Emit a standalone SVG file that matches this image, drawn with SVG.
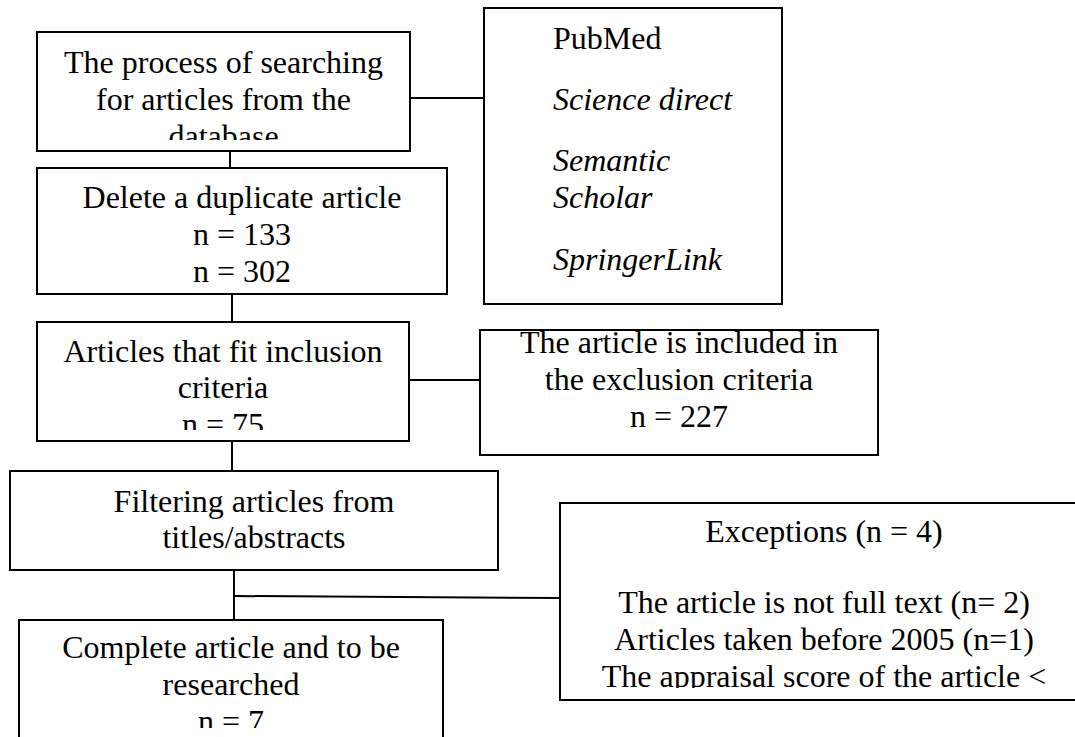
<svg xmlns="http://www.w3.org/2000/svg" width="1075" height="737" viewBox="0 0 1075 737">
<style>
.box{fill:#fff;stroke:#000;stroke-width:2}
.t{font-family:"Liberation Serif","Times New Roman",serif;font-size:32px;fill:#000}
.c{text-anchor:middle}
.i{font-style:italic}
.ln{stroke:#000;stroke-width:2;fill:none}
</style>
<defs>
<clipPath id="c1"><rect x="37" y="32" width="373" height="108"/></clipPath>
<clipPath id="c3"><rect x="37" y="322" width="372" height="108"/></clipPath>
<clipPath id="c5"><rect x="19" y="620" width="424" height="108"/></clipPath>
<clipPath id="c7"><rect x="560" y="503" width="515" height="185"/></clipPath>
</defs>
<rect width="1075" height="737" fill="#fff"/>
<g id="connectors">
<line class="ln" x1="410" y1="98" x2="484" y2="98"/>
<line class="ln" x1="230" y1="151" x2="230" y2="168"/>
<line class="ln" x1="232" y1="294" x2="232" y2="322"/>
<line class="ln" x1="409" y1="380" x2="480" y2="380"/>
<line class="ln" x1="232" y1="441" x2="232" y2="471"/>
<line class="ln" x1="234" y1="570" x2="234" y2="620"/>
<line class="ln" x1="234" y1="596" x2="560" y2="598"/>
</g>
<g id="search">
<rect class="box" x="37" y="32" width="373" height="119"/>
<g clip-path="url(#c1)">
<text class="t c" x="223.5" y="73">The process of searching</text>
<text class="t c" x="223.5" y="110">for articles from the</text>
<text class="t c" x="223.5" y="147">database</text>
</g>
</g>
<g id="databases">
<rect class="box" x="484" y="8" width="298" height="296"/>
<text class="t" x="553" y="49">PubMed</text>
<text class="t i" x="553" y="110">Science direct</text>
<text class="t i" x="553" y="171">Semantic</text>
<text class="t i" x="553" y="208">Scholar</text>
<text class="t i" x="553" y="270">SpringerLink</text>
</g>
<g id="duplicates">
<rect class="box" x="37" y="168" width="410" height="126"/>
<text class="t c" x="242" y="208">Delete a duplicate article</text>
<text class="t c" x="242" y="245">n = 133</text>
<text class="t c" x="242" y="282">n = 302</text>
</g>
<g id="inclusion">
<rect class="box" x="37" y="322" width="372" height="119"/>
<g clip-path="url(#c3)">
<text class="t c" x="223" y="362">Articles that fit inclusion</text>
<text class="t c" x="223" y="398">criteria</text>
<text class="t c" x="223" y="435">n = 75</text>
</g>
</g>
<g id="exclusion">
<rect class="box" x="480" y="330" width="398" height="125"/>
<text class="t c" x="679" y="353">The article is included in</text>
<text class="t c" x="679" y="390">the exclusion criteria</text>
<text class="t c" x="679" y="427">n = 227</text>
</g>
<g id="filtering">
<rect class="box" x="10" y="471" width="488" height="99"/>
<text class="t c" x="254" y="512">Filtering articles from</text>
<text class="t c" x="254" y="548">titles/abstracts</text>
</g>
<g id="exceptions">
<rect class="box" x="560" y="503" width="540" height="197"/>
<g clip-path="url(#c7)">
<text class="t c" x="824" y="542">Exceptions (n = 4)</text>
<text class="t c" x="824" y="613">The article is not full text (n= 2)</text>
<text class="t c" x="824" y="650">Articles taken before 2005 (n=1)</text>
<text class="t c" x="824" y="687">The appraisal score of the article &lt;</text>
</g>
</g>
<g id="complete">
<rect class="box" x="19" y="620" width="424" height="140"/>
<g clip-path="url(#c5)">
<text class="t c" x="231" y="658">Complete article and to be</text>
<text class="t c" x="231" y="695">researched</text>
<text class="t c" x="231" y="732">n = 7</text>
</g>
</g>
</svg>
